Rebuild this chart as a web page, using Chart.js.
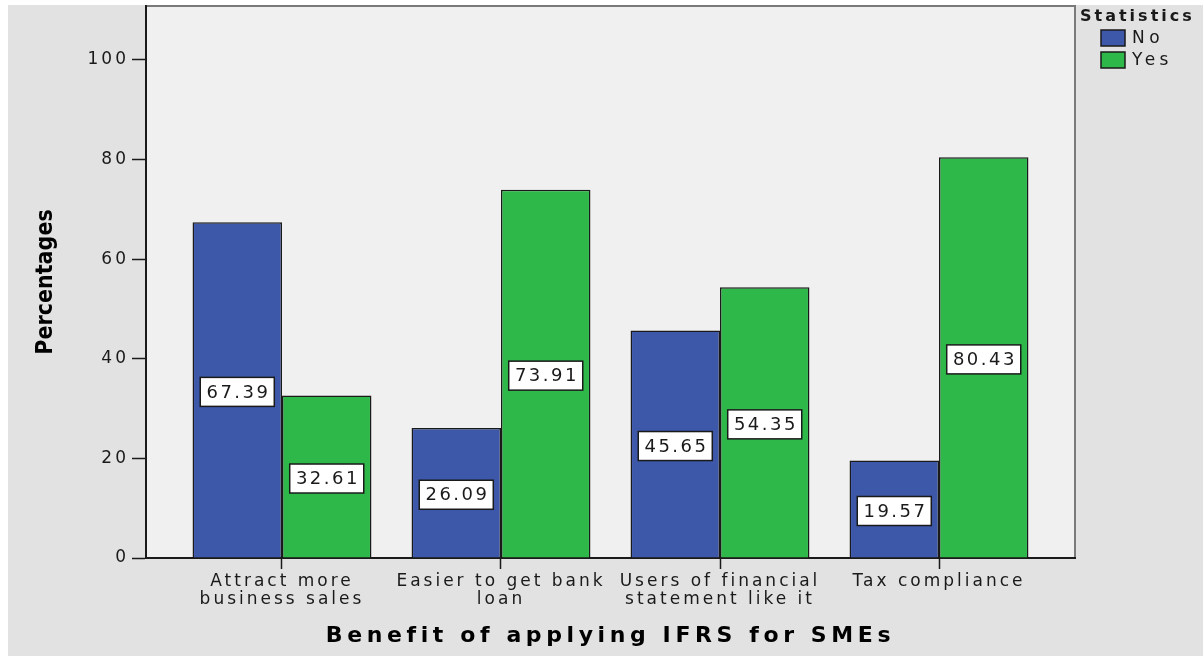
<!DOCTYPE html>
<html>
<head>
<meta charset="utf-8">
<script src="https://cdn.jsdelivr.net/npm/chart.js@4"></script>
<style>
  html, body { margin: 0; background: #fff; }
  #wrap { position: absolute; left: 8px; top: 5px; }
  canvas { display: block; background: #e2e2e2; }
</style>
</head>
<body>
<div id="wrap"><canvas id="chart" width="1195" height="651"></canvas></div>
<script>
// SPSS-style clustered bar chart: benefit of applying IFRS for SMEs, No vs Yes
const categories = [
  ['Attract more', 'business sales'],
  ['Easier to get bank', 'loan'],
  ['Users of financial', 'statement like it'],
  ['Tax compliance'],
]
const seriesNames = ['No', 'Yes']
const noValues = [67.39, 26.09, 45.65, 19.57]
const yesValues = [32.61, 73.91, 54.35, 80.43]
const yTicks = [0, 20, 40, 60, 80, 100]

const FONT = "'DejaVu Sans', sans-serif"
const INK = '#1a1a1a'

// the original is a horizontally stretched export, so text gets extra tracking
const setSpacing = chart => { chart.ctx.letterSpacing = '3px' }

function patchTitle(scale, gap) {
  if (!scale || scale._gapPatched) return
  const draw = scale.drawTitle
  scale.drawTitle = function () {
    const old = this.ctx.letterSpacing
    this.ctx.letterSpacing = gap
    draw.call(this)
    this.ctx.letterSpacing = old
  }
  scale._gapPatched = true
}

const spssLook = {
  id: 'spssLook',
  beforeUpdate: setSpacing,
  beforeDraw(chart) {
    setSpacing(chart)
    patchTitle(chart.scales.x, '4.6px')
    patchTitle(chart.scales.y, '0px')
    const { ctx, chartArea: a } = chart
    ctx.save()
    ctx.fillStyle = '#f0f0f0'
    ctx.fillRect(a.left, a.top, a.width, a.height)
    // top and right frame, the axes draw the black left/bottom lines
    ctx.strokeStyle = '#7a7a7a'
    ctx.lineWidth = 2
    ctx.beginPath()
    ctx.moveTo(a.left, a.top)
    ctx.lineTo(a.right, a.top)
    ctx.lineTo(a.right, a.bottom)
    ctx.stroke()
    ctx.restore()
  },
  afterDatasetsDraw(chart) {
    // boxed value label in the middle of each bar
    const { ctx } = chart
    ctx.save()
    ctx.font = `18px ${FONT}`
    ctx.letterSpacing = '2.5px'
    ctx.textAlign = 'center'
    ctx.textBaseline = 'middle'
    chart.data.datasets.forEach((ds, di) => {
      chart.getDatasetMeta(di).data.forEach((bar, i) => {
        const text = ds.data[i].y.toFixed(2)
        const cx = bar.x
        const cy = (bar.y + bar.base) / 2 + 2
        const w = ctx.measureText(text).width + 10
        const h = 29
        ctx.fillStyle = '#fff'
        ctx.fillRect(cx - w / 2, cy - h / 2, w, h)
        ctx.strokeStyle = INK
        ctx.lineWidth = 1.5
        ctx.strokeRect(cx - w / 2, cy - h / 2, w, h)
        ctx.fillStyle = INK
        ctx.fillText(text, cx + 1.2, cy + 1)
      })
    })
    ctx.restore()
  },
  afterDraw(chart) {
    // legend block to the right of the plot
    const { ctx, chartArea: a } = chart
    const x0 = a.right
    ctx.save()
    ctx.letterSpacing = '3px'
    ctx.textAlign = 'left'
    ctx.textBaseline = 'middle'
    ctx.fillStyle = INK
    ctx.font = `bold 16px ${FONT}`
    ctx.fillText('Statistics', x0 + 5, 12)
    ctx.font = `17px ${FONT}`
    ctx.letterSpacing = '4.5px'
    chart.data.datasets.forEach((ds, i) => {
      const y = 25 + i * 22
      ctx.fillStyle = ds.backgroundColor
      ctx.fillRect(x0 + 26, y, 24, 16)
      ctx.strokeStyle = INK
      ctx.lineWidth = 1.5
      ctx.strokeRect(x0 + 26, y, 24, 16)
      ctx.fillStyle = INK
      ctx.fillText(ds.label, x0 + 57, y + 9)
    })
    ctx.restore()
  },
}

new Chart(document.getElementById('chart'), {
  type: 'bar',
  data: {
    datasets: [
      { label: seriesNames[0], data: noValues.map((y, x) => ({ x, y })), backgroundColor: '#3d57a9' },
      { label: seriesNames[1], data: yesValues.map((y, x) => ({ x, y })), backgroundColor: '#2eb84a' },
    ],
  },
  options: {
    responsive: false,
    animation: false,
    devicePixelRatio: 1,
    layout: { padding: { left: 18, right: 128, top: 1, bottom: 0 } },
    datasets: {
      bar: { borderColor: INK, borderWidth: 1.5, categoryPercentage: 0.817, barPercentage: 1 },
    },
    scales: {
      x: {
        type: 'linear',
        min: -0.621,
        max: 3.621,
        offset: false,
        afterBuildTicks: s => { s.ticks = categories.map((_, value) => ({ value })) },
        afterFit: s => { s.height = 98; s.paddingLeft = 0; s.paddingRight = 0 },
        ticks: {
          callback: v => categories[v],
          autoSkip: false,
          maxRotation: 0,
          padding: 4,
          color: INK,
          font: { family: FONT, size: 17, lineHeight: 1.05 },
        },
        grid: { offset: false, drawOnChartArea: false, tickLength: 11, tickColor: INK, tickWidth: 1.5 },
        border: { color: INK, width: 2 },
        title: {
          display: true,
          text: 'Benefit of applying IFRS for SMEs',
          color: '#000',
          font: { family: FONT, size: 22, weight: 'bold', lineHeight: 1.2 },
          padding: { top: 0, bottom: 7 },
        },
      },
      y: {
        min: 0,
        max: 110.8,
        afterBuildTicks: s => { s.ticks = yTicks.map(value => ({ value })) },
        afterFit: s => { s.width = 120; s.paddingTop = 0; s.paddingBottom = 0 },
        ticks: { padding: 3, color: INK, font: { family: FONT, size: 17 } },
        grid: { drawOnChartArea: false, tickLength: 14, tickColor: INK, tickWidth: 1.5 },
        border: { color: INK, width: 2 },
        title: {
          display: true,
          text: 'Percentages',
          color: '#000',
          font: { family: "'DejaVu Sans Condensed', 'DejaVu Sans', sans-serif", size: 23, weight: 'bold', lineHeight: 1.2 },
          padding: { top: 6, bottom: 0 },
        },
      },
    },
    plugins: { legend: { display: false }, tooltip: { enabled: false } },
  },
  plugins: [spssLook],
})
</script>
</body>
</html>
